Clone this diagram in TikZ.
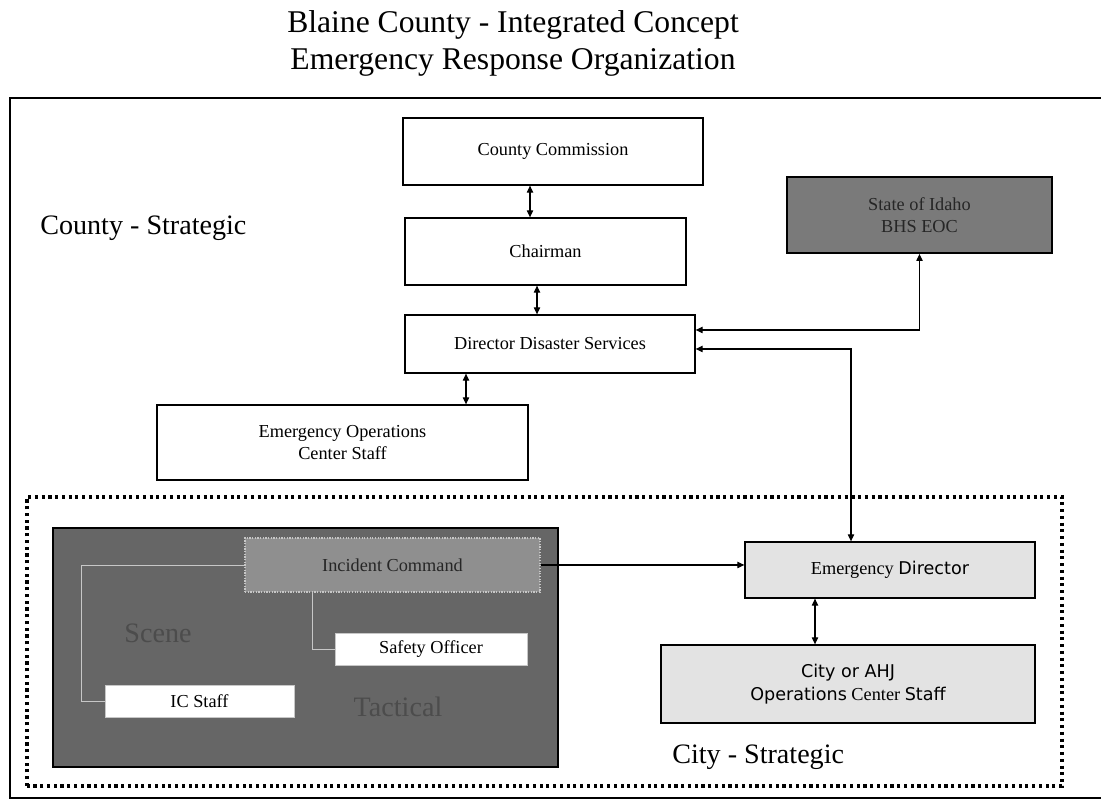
\documentclass[tikz,border=0pt]{standalone}
\usepackage{xcolor}
\usepackage{fontspec}
\setmainfont{Liberation Serif}
\newfontfamily\vfont{DejaVu Sans}
\usetikzlibrary{arrows.meta}

\tikzset{
  box/.style={draw=black,line width=0.9pt,fill=white,shape=rectangle,inner sep=0pt,
    font=\fontsize{13}{16}\selectfont,align=center},
  lbl/.style={font=\fontsize{20}{24}\selectfont,inner sep=0pt},
  link/.style={line width=0.8pt,{Triangle[length=5pt,width=4.5pt]}-{Triangle[length=5pt,width=4.5pt]}},
  onelink/.style={line width=0.8pt,-{Triangle[length=5pt,width=4.5pt]}},
  thinlink/.style={line width=0.5pt,draw=clink},
  dotframe/.style={line width=2.2pt,dash pattern=on 2.2pt off 2.6pt}
}

\begin{document}
\begin{tikzpicture}
\definecolor{cscene}{rgb}{0.40,0.40,0.40}
\definecolor{cstate}{rgb}{0.48,0.48,0.48}
\definecolor{cic}{rgb}{0.56,0.56,0.56}
\definecolor{ccity}{rgb}{0.89,0.89,0.89}
\definecolor{clink}{rgb}{0.78,0.78,0.78}
\definecolor{cfaint}{rgb}{0.30,0.30,0.30}
\definecolor{cdark}{rgb}{0.15,0.15,0.15}
%
\useasboundingbox (0,0) rectangle (27.525,20.125);
%
\node[lbl,font=\fontsize{22.5}{26}\selectfont] (title1) at (12.825,19.5) {Blaine County - Integrated Concept};
\node[lbl,font=\fontsize{22.5}{26}\selectfont] (title2) at (12.825,18.575) {Emergency Response Organization};
%
\draw[line width=1pt] (27.525,17.675) -- (0.25,17.675) -- (0.25,0.175) -- (27.525,0.175);
\draw[dotframe] (0.675,0.475) rectangle (26.55,7.7);
%
\node[box,minimum width=7.5cm,minimum height=1.675cm] (cc) at (13.825,16.3375) {County Commission};
\node[box,minimum width=7.025cm,minimum height=1.675cm] (chair) at (13.6375,13.8375) {Chairman};
\node[box,minimum width=7.25cm,minimum height=1.45cm] (dds) at (13.75,11.525) {Director Disaster Services};
\node[box,fill=cstate,text=cdark,line width=1.3pt,minimum width=6.625cm,minimum height=1.9cm] (state) at (22.9875,14.75) {State of Idaho\\BHS EOC};
\node[box,minimum width=9.275cm,minimum height=1.875cm] (eoc) at (8.5625,9.0625) {Emergency Operations\\Center Staff};
\node[lbl,anchor=west] (countylbl) at (1.0,14.425) {County - Strategic};
%
\node[box,fill=cscene,minimum width=12.625cm,minimum height=5.975cm] (scenebox) at (7.6375,3.9375) {};
\node[box,fill=cic,text=cdark,draw=clink,densely dotted,line width=0.8pt,minimum width=7.375cm,minimum height=1.35cm] (ic) at (9.8125,6.0) {Incident Command};
\node[box,draw=clink,line width=0.6pt,minimum width=4.8cm,minimum height=0.8cm] (safety) at (10.775,3.9) {Safety Officer};
\node[box,draw=clink,line width=0.6pt,minimum width=4.725cm,minimum height=0.8cm] (icstaff) at (4.9875,2.6) {IC Staff};
\node[lbl,text=cfaint] (scenelbl) at (3.95,4.3) {Scene};
\node[lbl,text=cfaint] (tacticallbl) at (9.95,2.45) {Tactical};
%
\node[box,fill=ccity,minimum width=7.25cm,minimum height=1.4cm] (ed) at (22.25,5.875) {Emergency {\vfont\fontsize{12.5}{15}\selectfont Director}};
\node[box,fill=ccity,minimum width=9.35cm,minimum height=1.95cm] (cityops) at (21.2,3.025) {{\vfont\fontsize{12.5}{15}\selectfont City or AHJ}\\{\vfont\fontsize{12.5}{15}\selectfont Operations} Center {\vfont\fontsize{12.5}{15}\selectfont Staff}};
\node[lbl,anchor=west] (citylbl) at (16.8,1.2) {City - Strategic};
%
\draw[link] ([xshift=-0.575cm]cc.south) -- ([xshift=-0.575cm]cc.south |- chair.north);
\draw[link] ([xshift=-0.2125cm]chair.south) -- ([xshift=-0.2125cm]chair.south |- dds.north);
\draw[link] ([xshift=-2.1cm]dds.south) -- ([xshift=-2.1cm]dds.south |- eoc.north);
\draw[link] (state.south) |- ([yshift=0.35cm]dds.east);
\draw[link] ([yshift=-0.125cm]dds.east) -| ([xshift=-0.975cm]ed.north);
\draw[onelink] (ic.east) -- (ic.east -| ed.west);
\draw[link] ([xshift=-1.875cm]ed.south) -- ([xshift=-1.875cm]ed.south |- cityops.north);
%
\draw[thinlink] (ic.west) -- ++(-4.075,0) |- (icstaff.west);
\draw[thinlink] ([xshift=-2.0125cm]ic.south) |- (safety.west);
%
\end{tikzpicture}
\end{document}
